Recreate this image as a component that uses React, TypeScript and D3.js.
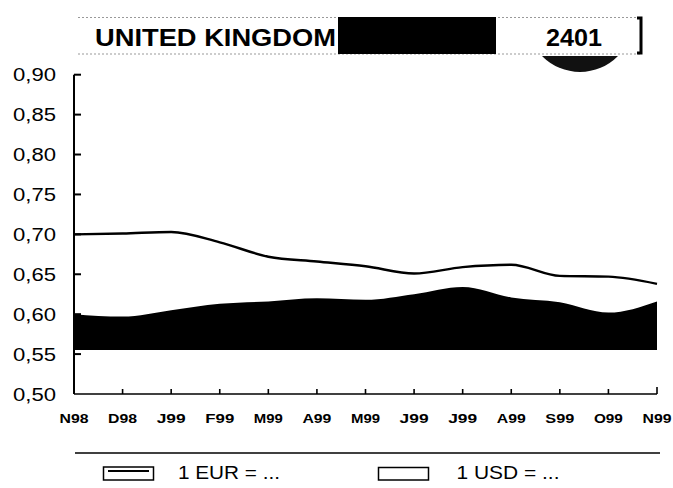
import * as React from "react";
import * as d3 from "d3";

const months = ["N98", "D98", "J99", "F99", "M99", "A99", "M99", "J99", "J99", "A99", "S99", "O99", "N99"];
const eurValues = [0.7, 0.701, 0.703, 0.69, 0.672, 0.666, 0.66, 0.651, 0.659, 0.662, 0.648, 0.647, 0.638];
const usdValues = [0.6, 0.597, 0.605, 0.613, 0.616, 0.62, 0.618, 0.625, 0.634, 0.621, 0.615, 0.602, 0.616];
const usdBase = 0.555;
const yTicks = [0.5, 0.55, 0.6, 0.65, 0.7, 0.75, 0.8, 0.85, 0.9];
const legendLabels = ["1 EUR = ...", "1 USD = ..."];
const country = "UNITED KINGDOM";
const code = "2401";

const width = 673;
const height = 488;
const font = "'Liberation Sans', Arial, Helvetica, sans-serif";

const fmt = (v: number) => v.toFixed(2).replace(".", ",");

export default function App() {
  const xScale = React.useMemo(
    () => d3.scalePoint<number>().domain(d3.range(months.length)).range([74, 657]),
    []
  );
  const yScale = React.useMemo(() => d3.scaleLinear().domain([0.5, 0.9]).range([394, 74.7]), []);

  const eurLine = d3
    .line<number>()
    .x((_, i) => xScale(i)!)
    .y((d) => yScale(d))
    .curve(d3.curveMonotoneX)(eurValues);

  const usdArea = d3
    .area<number>()
    .x((_, i) => xScale(i)!)
    .y0(yScale(usdBase))
    .y1((d) => yScale(d))
    .curve(d3.curveMonotoneX)(usdValues);

  const x0 = xScale(0)!;
  const xEnd = xScale(months.length - 1)!;
  const yBottom = yScale(0.5);

  // header lens under the code box
  const lensL = 542, lensR = 618, lensY = 56, sag = 16;
  const half = (lensR - lensL) / 2;
  const r = (half * half + sag * sag) / (2 * sag);

  return (
    <svg
      width={width}
      height={height}
      style={{ position: "absolute", left: 0, top: 0, background: "#fff" }}
      fontFamily={font}
    >
      {/* header */}
      <g>
        <line x1={78} x2={640} y1={17.5} y2={17.5} stroke="#999" strokeWidth={1} strokeDasharray="2 2" />
        <line x1={78} x2={640} y1={54} y2={54} stroke="#999" strokeWidth={1} strokeDasharray="2 2" />
        <rect x={338} y={17} width={158} height={37} fill="#000" />
        <text x={95} y={46} fontSize={24} fontWeight="bold" textLength={241} lengthAdjust="spacingAndGlyphs">
          {country}
        </text>
        <text x={546} y={46} fontSize={24} fontWeight="bold" textLength={56} lengthAdjust="spacingAndGlyphs">
          {code}
        </text>
        <path d="M637,18 H641 V53 H637" fill="none" stroke="#000" strokeWidth={3} />
        <path d={`M${lensL},${lensY} A${r},${r} 0 0 0 ${lensR},${lensY} Z`} fill="#111" />
      </g>

      {/* series */}
      <path d={usdArea ?? ""} fill="#000" />
      <path d={eurLine ?? ""} fill="none" stroke="#000" strokeWidth={2.4} />

      {/* y axis */}
      <line x1={x0} x2={x0} y1={yScale(0.9)} y2={yBottom} stroke="#000" strokeWidth={2} />
      {yTicks.map((t) => (
        <g key={t}>
          {t > 0.5 && (
            <line x1={x0} x2={x0 + 7} y1={yScale(t)} y2={yScale(t)} stroke="#000" strokeWidth={2} />
          )}
          <text
            x={56}
            y={yScale(t)}
            dy="0.36em"
            textAnchor="end"
            fontSize={18.5}
            textLength={43}
            lengthAdjust="spacingAndGlyphs"
          >
            {fmt(t)}
          </text>
        </g>
      ))}

      {/* x axis */}
      <line x1={x0} x2={xEnd} y1={yBottom} y2={yBottom} stroke="#000" strokeWidth={1.6} />
      {months.map((m, i) => (
        <g key={i}>
          {i > 0 && (
            <line
              x1={xScale(i)}
              x2={xScale(i)}
              y1={yBottom}
              y2={yBottom - (i === months.length - 1 ? 7 : 5)}
              stroke="#000"
              strokeWidth={1.6}
            />
          )}
          <text
            x={xScale(i)}
            y={423}
            textAnchor="middle"
            fontSize={12.5}
            fontWeight="bold"
            textLength={29}
            lengthAdjust="spacingAndGlyphs"
          >
            {m}
          </text>
        </g>
      ))}

      {/* legend */}
      <line x1={75} x2={660} y1={453} y2={453} stroke="#000" strokeWidth={1.5} />
      <rect x={103.5} y={467} width={50} height={13} fill="#fff" stroke="#000" strokeWidth={1.5} />
      <line x1={108} x2={149} y1={471} y2={471} stroke="#000" strokeWidth={1.8} />
      <text x={178} y={478.5} fontSize={18} textLength={102} lengthAdjust="spacingAndGlyphs">
        {legendLabels[0]}
      </text>
      <rect x={378.5} y={467.5} width={50} height={12.5} fill="#fff" stroke="#000" strokeWidth={1.5} />
      <text x={456.5} y={478.5} fontSize={18} textLength={103} lengthAdjust="spacingAndGlyphs">
        {legendLabels[1]}
      </text>
    </svg>
  );
}
